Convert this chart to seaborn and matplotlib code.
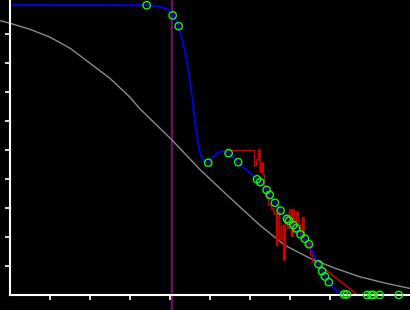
import numpy as np
import pandas as pd
import seaborn as sns
import matplotlib
matplotlib.use("Agg")
import matplotlib.pyplot as plt

# Gray reference curve
gray_x = [-0.26, -0.01, 0.49, 0.99, 1.49, 1.99, 2.49, 2.99, 3.24, 3.74, 4.03,
          4.28, 4.74, 5.24, 5.74, 6.24, 6.86, 7.49, 8.11, 8.74, 9.41, 9.99, 10.2]
gray_y = [0.946, 0.937, 0.916, 0.889, 0.851, 0.799, 0.747, 0.682, 0.642, 0.575, 0.536,
          0.500, 0.433, 0.368, 0.304, 0.241, 0.172, 0.127, 0.093, 0.063, 0.040, 0.023, 0.019]

# Red raw trace
red_x = [5.46, 6.11, 6.11, 6.16, 6.16, 6.21, 6.21, 6.25, 6.25, 6.29, 6.29, 6.33,
         6.33, 6.36, 6.36, 6.41, 6.41, 6.46, 6.46, 6.54, 6.54, 6.60, 6.60, 6.66,
         6.66, 6.69, 6.69, 6.74, 6.74, 6.79, 6.79, 6.84, 6.84, 6.88, 6.88, 6.94,
         6.94, 6.99, 6.99, 7.04, 7.04, 7.08, 7.08, 7.11, 7.11, 7.16, 7.16, 7.21,
         7.21, 7.26, 7.26, 7.31, 7.31, 7.35, 7.35, 7.41, 7.41, 7.46, 7.46, 7.51,
         7.51, 7.56, 7.56, 7.64, 7.71, 8.69, 9.86]
red_y = [0.498, 0.498, 0.445, 0.445, 0.466, 0.466, 0.500, 0.500, 0.424, 0.424, 0.455, 0.455,
         0.414, 0.414, 0.376, 0.376, 0.341, 0.341, 0.310, 0.310, 0.297, 0.297, 0.279, 0.279,
         0.172, 0.172, 0.300, 0.300, 0.190, 0.190, 0.238, 0.238, 0.121, 0.121, 0.276, 0.276,
         0.231, 0.231, 0.293, 0.293, 0.203, 0.203, 0.293, 0.293, 0.217, 0.217, 0.286, 0.286,
         0.245, 0.245, 0.203, 0.203, 0.266, 0.266, 0.190, 0.190, 0.169, 0.169, 0.179, 0.179,
         0.138, 0.138, 0.114, 0.114, 0.106, 0.0, 0.0]

# Blue smooth fit
blue_x = [0.0, 3.41, 3.74, 3.91, 4.07, 4.15, 4.21, 4.28, 4.36, 4.44, 4.50, 4.56,
          4.61, 4.66, 4.71, 4.76, 4.82, 4.86, 4.95, 5.07, 5.20, 5.31, 5.46, 5.70,
          6.17, 6.25, 6.41, 6.49, 6.62, 6.76, 6.92, 6.97, 7.08, 7.15, 7.26, 7.37,
          7.47, 7.71, 7.81, 7.87, 7.97, 8.09, 8.24, 8.36, 10.3]
blue_y = [1.0, 0.999, 0.994, 0.986, 0.966, 0.946, 0.927, 0.891, 0.845, 0.790, 0.731, 0.672,
          0.610, 0.559, 0.514, 0.483, 0.466, 0.461, 0.456, 0.476, 0.491, 0.495, 0.491, 0.458,
          0.399, 0.389, 0.362, 0.345, 0.318, 0.291, 0.262, 0.256, 0.241, 0.230, 0.209, 0.194,
          0.175, 0.106, 0.082, 0.064, 0.044, 0.023, 0.009, 0.0, 0.0]

# Green sample points
pts_x = [3.41, 4.06, 4.21, 4.95, 5.46, 5.70, 6.17, 6.25, 6.41, 6.49, 6.62, 6.76,
         6.92, 6.97, 7.08, 7.15, 7.26, 7.37, 7.47, 7.71, 7.80, 7.87, 7.97, 8.35,
         8.42, 8.93, 9.03, 9.08, 9.24, 9.72]
pts_y = [0.999, 0.964, 0.927, 0.456, 0.489, 0.458, 0.399, 0.389, 0.362, 0.345, 0.318, 0.291,
         0.262, 0.256, 0.241, 0.230, 0.209, 0.194, 0.175, 0.106, 0.082, 0.064, 0.044, 0.002,
         0.002, 0.0, 0.0, 0.0, 0.0, 0.0]

vline_x = 4.04
x_ticks = [1, 2, 3, 4, 5, 6, 7, 8]
y_ticks = [0.1, 0.2, 0.3, 0.4, 0.5, 0.6, 0.7, 0.8, 0.9]

sns.set_style("dark")
fig = plt.figure(figsize=(4.1001, 3.1001), dpi=100, facecolor="black")
ax = fig.add_axes([0, 0, 1, 1])
ax.set_facecolor("black")

sns.lineplot(x=gray_x, y=gray_y, sort=False, estimator=None, color="#8c8c8c", lw=1.0, ax=ax)
sns.lineplot(x=red_x, y=red_y, sort=False, estimator=None, color="#d00000", lw=1.1, ax=ax)
sns.lineplot(x=blue_x, y=blue_y, sort=False, estimator=None, color="#0000ff", lw=1.2, ax=ax)
ax.axvline(vline_x, color="#8b008b", lw=1.3, zorder=1)
sns.scatterplot(x=pts_x, y=pts_y, marker="o", s=28, facecolor="none",
                edgecolor="#00ff00", linewidth=1.0, ax=ax, zorder=5)

ax.set_xlim(-10.5 / 40, 10)
ax.set_ylim(-15 / 290, 1 + 5 / 290)
ax.grid(False)

for s in ["top", "right"]:
    ax.spines[s].set_visible(False)
ax.spines["left"].set_position(("data", 0))
ax.spines["bottom"].set_position(("data", 0))
ax.spines["left"].set_bounds(0, 1 + 5 / 290)
ax.spines["bottom"].set_bounds(0, 10)
for s in ["left", "bottom"]:
    ax.spines[s].set_color("white")
    ax.spines[s].set_linewidth(1.5)
    ax.spines[s].set_visible(True)
ax.set_xticks(x_ticks)
ax.set_yticks(y_ticks)
ax.tick_params(colors="white", direction="out", length=3.5, width=1.2,
               labelbottom=False, labelleft=False, bottom=True, left=True)
ax.set_xlabel("")
ax.set_ylabel("")

fig.savefig("out.png", dpi=100, facecolor="black")
